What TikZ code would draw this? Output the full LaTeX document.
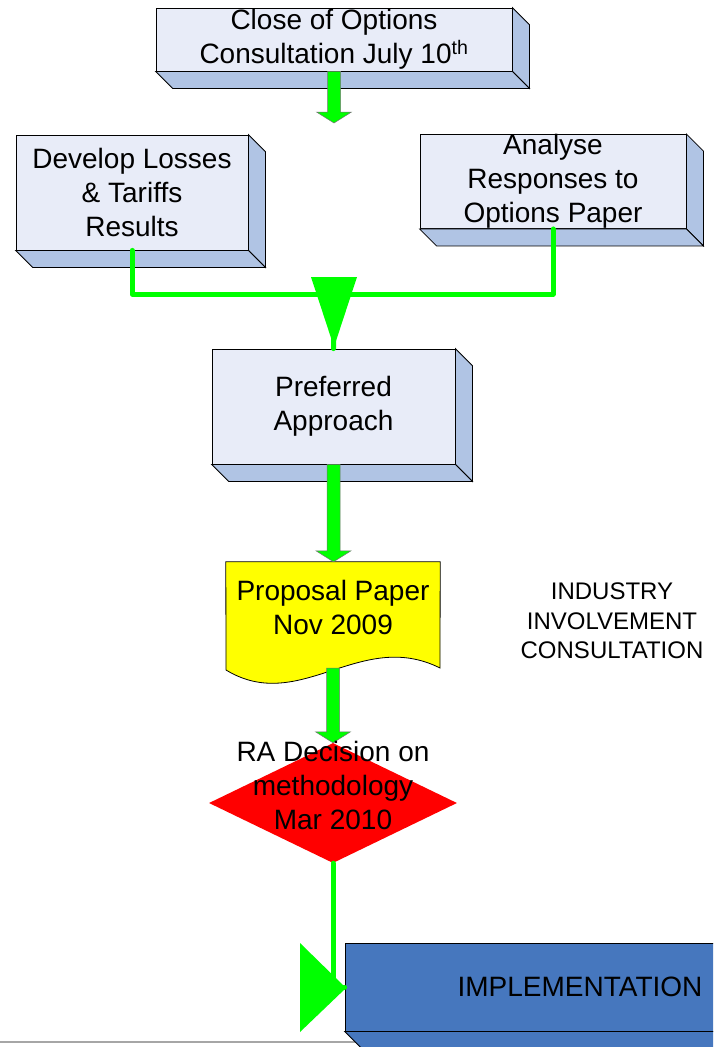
\documentclass[tikz,border=0pt]{standalone}
\usepackage{fontspec}
\setmainfont{Liberation Sans}
\usetikzlibrary{calc,shapes.geometric}
\definecolor{grn}{RGB}{0,255,0}
\definecolor{faceC}{RGB}{232,236,248}
\definecolor{sideC}{RGB}{176,196,228}
\definecolor{implC}{RGB}{70,119,190}
\definecolor{yel}{RGB}{255,255,0}
\definecolor{redC}{RGB}{255,0,0}
\tikzset{
  face/.style={draw=black, line width=0.8pt, fill=faceC, inner sep=0pt, align=center,
    font=\fontsize{28}{34}\selectfont},
  side/.style={draw=black, line width=0.8pt, fill=sideC},
  gline/.style={draw=grn, line width=5pt, line cap=round, line join=round},
  blockarr/.style={fill=grn, draw=black!55, line width=0.5pt},
  txt/.style={inner sep=0pt, align=center, font=\fontsize{28}{34}\selectfont},
}
% #1 node name, #2 depth
\newcommand{\depthfaces}[2]{%
  \filldraw[side] (#1.north east) -- ($(#1.north east)+(#2,#2)$) -- ($(#1.south east)+(#2,#2)$) -- (#1.south east) -- cycle;
  \filldraw[side] (#1.south west) -- (#1.south east) -- ($(#1.south east)+(#2,#2)$) -- ($(#1.south west)+(#2,#2)$) -- cycle;
}
% #1 start coordinate, #2 target (tip level)
\newcommand{\blockarrow}[2]{%
  \path (#1) coordinate (ba-s) (#1 |- #2) coordinate (ba-t);
  \filldraw[blockarr] ($(ba-s)+(-6.5,0)$) -- ($(ba-t)+(-6.5,-11)$) -- ($(ba-t)+(-17.5,-11)$) -- (ba-t)
     -- ($(ba-t)+(17.5,-11)$) -- ($(ba-t)+(6.5,-11)$) -- ($(ba-s)+(6.5,0)$) -- cycle;
}
\begin{document}
\begin{tikzpicture}[x=1pt,y=-1pt]
\useasboundingbox (0,0) rectangle (713,1047);
\clip (0,0) rectangle (713,1047);

% faint page line at bottom
\draw[black!35, line width=1.5pt] (0,1042) -- (360,1042);

% Close of options box
\node[face, minimum width=356pt, minimum height=63pt] (close) at (334,39.5)
  {Close of Options\\Consultation July 10\textsuperscript{th}};
\depthfaces{close}{17}

% Develop losses
\node[face, minimum width=232pt, minimum height=115pt] (dev) at (132,192.5)
  {Develop Losses\\\& Tariffs\\Results};
\depthfaces{dev}{17}

% Analyse responses
\node[face, minimum width=266pt, minimum height=93pt] (ana) at (553,181.5)
  {Analyse\\Responses to\\Options Paper};
\depthfaces{ana}{17}

% Preferred approach
\node[face, minimum width=243pt, minimum height=115pt] (pref) at (333.5,406.5)
  {Preferred\\Approach};
\depthfaces{pref}{17}

% Proposal paper (document shape)
\node[inner sep=0pt, minimum width=214pt, minimum height=106pt] (prop) at (333,615) {};
\filldraw[fill=yel, draw=black, line width=0.8pt]
  (prop.north west) -- (prop.north east) -- (440,668)
  .. controls (360,628) and (300,715) .. (226,670) -- cycle;
\node[txt] (propt) at (333,607) {Proposal Paper\\Nov 2009};

% RA decision diamond
\node[diamond, fill=redC, inner sep=0pt, minimum width=248pt, minimum height=120pt] (dia) at (333,803) {};

% Implementation box
\node[draw=black, line width=0.8pt, fill=implC, inner sep=0pt, minimum width=470pt, minimum height=88pt,
  font=\fontsize{28}{34}\selectfont] (impl) at (580,987) {IMPLEMENTATION};
\filldraw[draw=black, line width=0.8pt, fill=implC] (impl.south west) -- (impl.south east) -- ($(impl.south east)+(16,16)$) -- ($(impl.south west)+(16,16)$) -- cycle;

% Industry text
\node[inner sep=0pt, align=center, font=\fontsize{24}{29.5}\selectfont] (ind) at (612,621)
  {INDUSTRY\\INVOLVEMENT\\CONSULTATION};

% Connectors
\blockarrow{close.south}{333.5,123}
\coordinate (jn) at (334,294);
\draw[gline] (dev.south) |- (jn) -| (ana.south);
\draw[gline] (jn) -- (pref.north);
\fill[grn] (311,277) -- (357,277) -- (334,347) -- cycle;
\blockarrow{pref.south}{prop.north}
\coordinate (propb) at (333,668);
\blockarrow{propb}{dia.north}
\node[txt] (diat) at (333,785) {RA Decision on\\methodology\\Mar 2010};
\fill[grn] (300,943) -- (300,1032) -- (346,988) -- cycle;
\draw[gline] (dia.south) |- (impl.west);
\end{tikzpicture}
\end{document}
